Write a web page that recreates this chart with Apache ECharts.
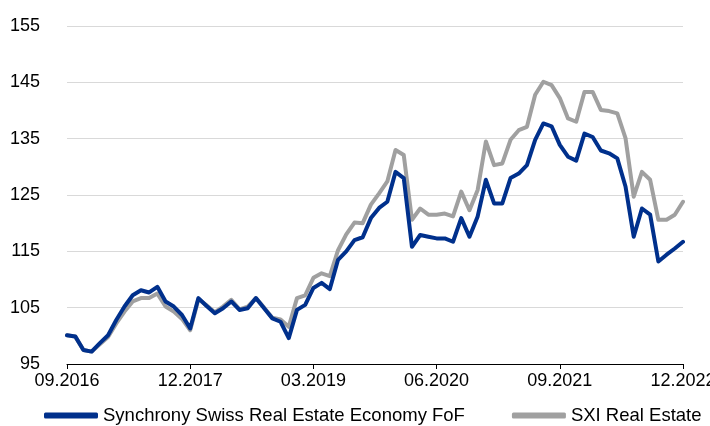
<!DOCTYPE html>
<html>
<head>
<meta charset="utf-8">
<script src="https://cdn.jsdelivr.net/npm/echarts@6/dist/echarts.min.js"></script>
<style>
  html, body { margin: 0; padding: 0; background: #fff; }
  #chart { width: 710px; height: 426px; }
</style>
</head>
<body>
<div id="chart"></div>
<script>
// months 09.2016 .. 12.2022
var months = [];
for (var y = 2016; y <= 2022; y++) {
  for (var m = 1; m <= 12; m++) {
    if (y === 2016 && m < 9) continue;
    months.push((m < 10 ? '0' + m : '' + m) + '.' + y);
  }
}

var synchrony = [
  100.1, 99.9, 97.5, 97.2, 98.7, 100.1, 102.8, 105.2, 107.2, 108.1,
  107.7, 108.7, 106.1, 105.2, 103.7, 101.3, 106.7, 105.3, 104.0, 104.9,
  106.1, 104.6, 104.9, 106.7, 104.9, 103.1, 102.5, 99.6, 104.6, 105.5,
  108.5, 109.4, 108.3, 113.5, 115.0, 117.0, 117.5, 120.9, 122.7, 123.8,
  129.1, 128.0, 115.8, 117.9, 117.6, 117.3, 117.3, 116.7, 120.9, 117.6,
  121.2, 127.7, 123.5, 123.5, 128.0, 128.8, 130.3, 134.8, 137.7, 137.2,
  133.9, 131.8, 131.1, 135.9, 135.3, 132.9, 132.4, 131.5, 126.5, 117.6,
  122.6, 121.5, 113.2, 114.4, 115.5, 116.7
];

var sxi = [
  100.1, 99.9, 97.5, 97.2, 98.5, 99.8, 102.2, 104.3, 106.1, 106.7,
  106.7, 107.5, 105.2, 104.3, 103.0, 101.0, 106.5, 105.4, 104.2, 105.2,
  106.4, 104.7, 105.2, 106.7, 105.0, 103.2, 102.9, 101.6, 106.7, 107.2,
  110.3, 111.1, 110.6, 115.2, 118.0, 120.1, 120.0, 123.3, 125.3, 127.4,
  133.0, 132.1, 120.6, 122.6, 121.5, 121.5, 121.7, 121.2, 125.6, 122.3,
  125.9, 134.5, 130.3, 130.6, 134.8, 136.5, 137.1, 142.8, 145.1, 144.5,
  142.2, 138.6, 138.0, 143.3, 143.3, 140.1, 139.9, 139.5, 135.1, 124.7,
  129.1, 127.7, 120.6, 120.6, 121.5, 123.8
];

var names = ['Synchrony Swiss Real Estate Economy FoF', 'SXI Real Estate'];
var colors = ['#00308C', '#A0A0A0'];

var chart = echarts.init(document.getElementById('chart'));
chart.setOption({
  animation: false,
  color: colors,
  textStyle: { fontFamily: 'Liberation Sans, Arial, sans-serif' },
  grid: { left: 67, right: 27, top: 26, bottom: 62, outerBoundsMode: 'none' },
  legend: {
    left: 39,
    top: 401,
    width: 671,
    padding: [5, 0, 5, 5],
    itemGap: 47,
    itemWidth: 54,
    itemHeight: 6,
    icon: 'roundRect',
    textStyle: { color: '#000', fontSize: 18.5 },
    data: names
  },
  xAxis: {
    type: 'category',
    data: months,
    boundaryGap: false,
    axisLine: { lineStyle: { color: '#000', width: 1 } },
    axisTick: { show: true, interval: 14, length: 5, lineStyle: { color: '#000' } },
    axisLabel: { interval: 14, color: '#000', fontSize: 18, margin: 8 },
    splitLine: { show: false }
  },
  yAxis: {
    type: 'value',
    min: 95,
    max: 155,
    interval: 10,
    axisLine: { show: false },
    axisTick: { show: false },
    axisLabel: { color: '#000', fontSize: 18, margin: 27 },
    splitLine: { lineStyle: { color: '#D9D9D9', width: 1 } }
  },
  series: [
    {
      name: names[0],
      type: 'line',
      data: synchrony,
      symbol: 'none',
      z: 3,
      itemStyle: { color: colors[0] },
      lineStyle: { width: 4, color: colors[0], cap: 'round', join: 'round' }
    },
    {
      name: names[1],
      type: 'line',
      data: sxi,
      symbol: 'none',
      z: 2,
      itemStyle: { color: colors[1] },
      lineStyle: { width: 4, color: colors[1], cap: 'round', join: 'round' }
    }
  ]
});
</script>
</body>
</html>
